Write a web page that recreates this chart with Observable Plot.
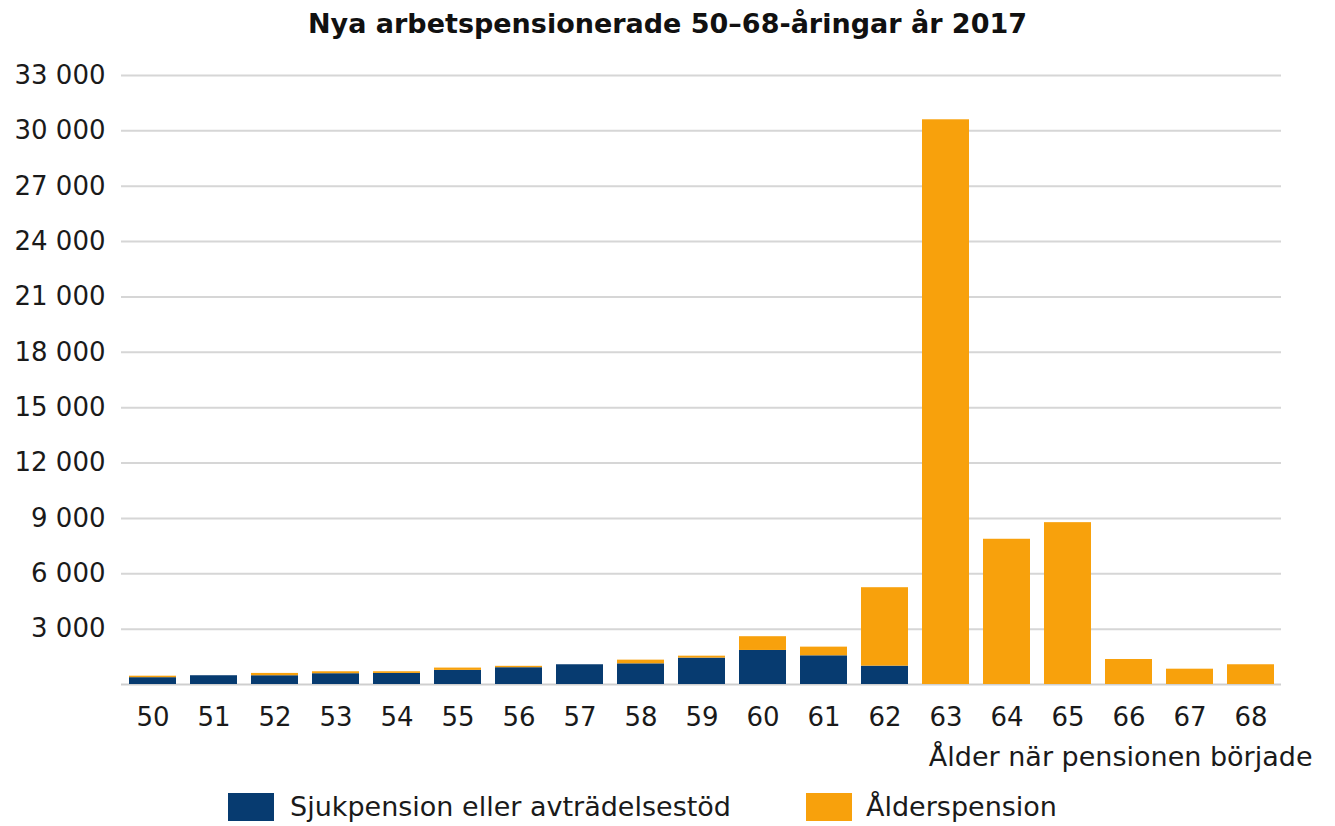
<!DOCTYPE html>
<html>
<head>
<meta charset="utf-8">
<script src="https://cdn.jsdelivr.net/npm/d3@7"></script>
<script src="https://cdn.jsdelivr.net/npm/@observablehq/plot@0.6"></script>
<style>
  html, body { margin: 0; padding: 0; background: #fff; }
  body { width: 1335px; height: 826px; overflow: hidden; font-family: "DejaVu Sans", Verdana, sans-serif; color: #1a1a1a; }
  #title { height: 45px; line-height: 47px; text-align: center; font-weight: bold; font-size: 27px; color: #111; }
  #chart svg { display: block; }
  #legend { position: relative; height: 51px; font-size: 27px; color: #1a1a1a; }
  .sw { position: absolute; top: 18px; width: 46px; height: 28px; }
  .lt { position: absolute; top: 14px; line-height: 36px; }
</style>
</head>
<body>
<div id="title">Nya arbetspensionerade 50–68-åringar år 2017</div>
<div id="chart"></div>
<div id="legend"></div>
<script>
const ages = ["50","51","52","53","54","55","56","57","58","59","60","61","62","63","64","65","66","67","68"];
const sjukpension = [370, 475, 475, 585, 600, 765, 910, 1070, 1120, 1430, 1845, 1555, 995, 0, 0, 0, 0, 0, 0];
const alderspension = [80, 0, 125, 105, 90, 125, 75, 0, 200, 105, 745, 470, 4250, 30600, 7870, 8770, 1355, 830, 1070];
const seriesNames = ["Sjukpension eller avträdelsestöd", "Ålderspension"];
const seriesColors = ["#073b70", "#f8a10c"];
const yTicks = [3000, 6000, 9000, 12000, 15000, 18000, 21000, 24000, 27000, 30000, 33000];
const xLabel = "Ålder när pensionen började";

const rows = [
  ...ages.map((a, i) => ({age: a, value: sjukpension[i], series: seriesNames[0]})),
  ...ages.map((a, i) => ({age: a, value: alderspension[i], series: seriesNames[1]}))
];

const fmt = d => d3.format(",")(d).replace(/,/g, " ");

const chart = Plot.plot({
  width: 1335,
  height: 730,
  marginTop: 30,
  marginBottom: 91,
  marginLeft: 121,
  marginRight: 54,
  style: {fontFamily: "DejaVu Sans, Verdana, sans-serif", fontSize: "26px", color: "#1a1a1a", background: "#fff"},
  x: {domain: ages, paddingInner: 0.23, paddingOuter: 0.12, label: null},
  y: {domain: [0, 33000], label: null},
  color: {domain: seriesNames, range: seriesColors},
  marks: [
    Plot.gridY(yTicks, {stroke: "#d6d6d6", strokeWidth: 2, strokeOpacity: 1}),
    Plot.ruleY([0], {stroke: "#cfcfcf", strokeWidth: 2}),
    Plot.barY(rows, {x: "age", y: "value", fill: "series", order: seriesNames}),
    Plot.axisY(yTicks, {tickSize: 0, tickPadding: 16, tickFormat: fmt, fontSize: 26}),
    Plot.axisX({tickSize: 0, tickPadding: 23, fontSize: 26}),
    Plot.text([xLabel], {frameAnchor: "bottom-right", textAnchor: "end", dx: 31, dy: 81, fontSize: 27, fill: "#1a1a1a"})
  ]
});
document.getElementById("chart").appendChild(chart);

const legend = document.getElementById("legend");
const pos = [[228, 290], [806, 866]];
seriesNames.forEach((n, i) => {
  const s = document.createElement("div");
  s.className = "sw"; s.style.left = pos[i][0] + "px"; s.style.background = seriesColors[i];
  const t = document.createElement("div");
  t.className = "lt"; t.style.left = pos[i][1] + "px"; t.textContent = n;
  legend.appendChild(s); legend.appendChild(t);
});
</script>
</body>
</html>
